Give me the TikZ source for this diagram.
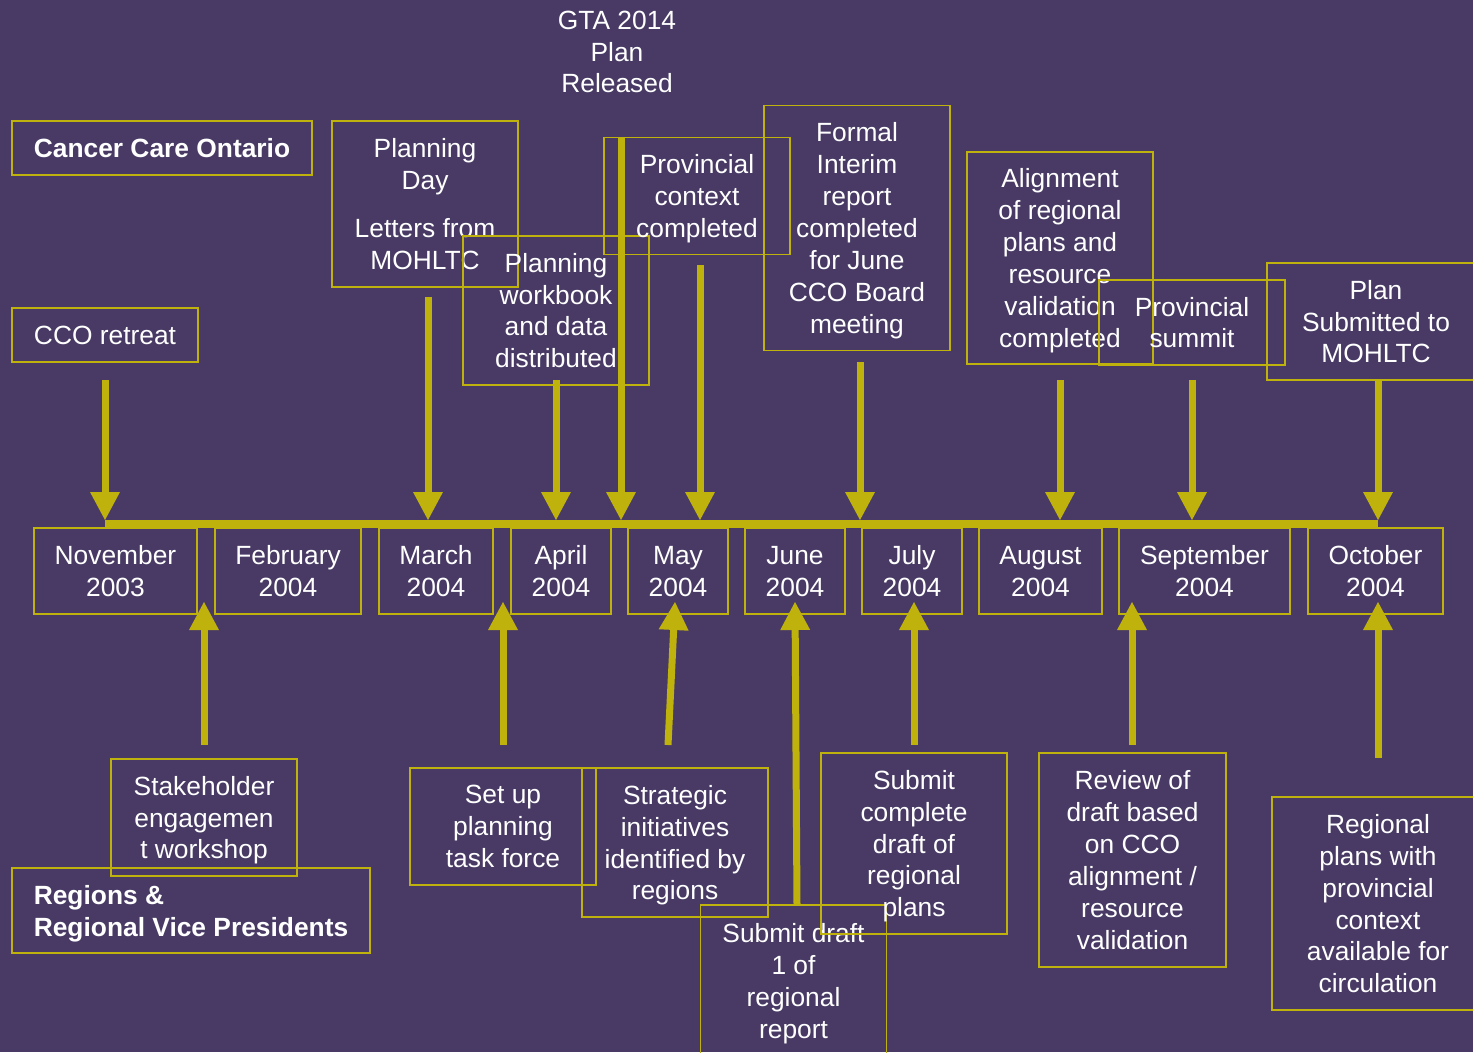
\documentclass[tikz,border=0pt]{standalone}
\usepackage{fontspec}
\setmainfont{Liberation Sans}
\usepackage{tikz}
\usetikzlibrary{arrows.meta}
\usepackage{xcolor}
\definecolor{bgpurple}{RGB}{72,58,100}
\definecolor{lineyellow}{RGB}{192,178,12}
\newcommand{\evfont}{\fontsize{15}{18.14}\selectfont}
\tikzset{
  evbox/.style 2 args={draw=lineyellow,line width=1.1pt,text=white,align=center,inner sep=0pt,
    font=\evfont,text depth=-1.5pt,minimum width=#1*0.02cm,minimum height=#2*0.02cm},
  monthbox/.style={evbox={#1}{86},text depth=-2.5pt},
  milestone/.style={draw=lineyellow,line width=0.14cm,
    -{Triangle[width=0.6cm,length=0.56cm,line width=0pt]}},
}
\begin{document}
\begin{tikzpicture}[x=0.02cm,y=-0.02cm]
\useasboundingbox (0,0) rectangle (1473,1052);
\fill[bgpurple] (0,0) rectangle (1473,1052);
% CCO side
\node[evbox={300}{54},font=\evfont\bfseries] (cco) at (162,148) {Cancer Care Ontario};
\node[evbox={186}{54}] (retreat) at (105,335) {CCO retreat};
\node[evbox={186}{166}] (planday) at (425,204) {Planning\\Day\\[9pt]Letters from\\MOHLTC};
\node[evbox={186}{149}] (workbook) at (556,310.5) {Planning\\workbook\\and data\\distributed};
\node[evbox={186}{117}] (provctx) at (697,196) {Provincial\\context\\completed};
\node[evbox={186}{245}] (interim) at (857,228) {Formal\\Interim\\report\\completed\\for June\\CCO Board\\meeting};
\node[evbox={186}{212}] (align) at (1060,258) {Alignment\\of regional\\plans and\\resource\\validation\\completed};
\node[evbox={186}{85}] (summit) at (1192,322.5) {Provincial\\summit};
\node[evbox={218}{117}] (plansub) at (1376,321.5) {Plan\\Submitted to\\MOHLTC};
\node[text=white,align=center,font=\evfont] (gta) at (617,52) {GTA 2014\\Plan\\Released};
% months
\node[monthbox=163] (nov) at (115.5,571) {November\\2003};
\node[monthbox=146] (feb) at (288,571) {February\\2004};
\node[monthbox=114] (mar) at (436,571) {March\\2004};
\node[monthbox=100] (apr) at (561,571) {April\\2004};
\node[monthbox=100] (may) at (678,571) {May\\2004};
\node[monthbox=100] (jun) at (795,571) {June\\2004};
\node[monthbox=100] (jul) at (912,571) {July\\2004};
\node[monthbox=123] (aug) at (1040.5,571) {August\\2004};
\node[monthbox=171] (sep) at (1204.5,571) {September\\2004};
\node[monthbox=135] (oct) at (1375.5,571) {October\\2004};
% regions side
\node[evbox={186}{117}] (stake) at (204,817.5) {Stakeholder\\engagemen\\t workshop};
\node[evbox={358}{85},font=\evfont\bfseries,align=left] (regions) at (191,910.5) {Regions \&\\Regional Vice Presidents};
\node[evbox={186}{117}] (setup) at (503,826.5) {Set up\\planning\\task force};
\node[evbox={186}{149}] (strat) at (675,842.5) {Strategic\\initiatives\\identified by\\regions};
\node[evbox={186}{152}] (draft1) at (793.5,981) {Submit draft\\1 of\\regional\\report};
\node[evbox={186}{181}] (complete) at (914,843.5) {Submit\\complete\\draft of\\regional\\plans};
\node[evbox={187}{214}] (review) at (1132.5,860) {Review of\\draft based\\on CCO\\alignment /\\resource\\validation};
\node[evbox={212}{213}] (regplans) at (1378,903.5) {Regional\\plans with\\provincial\\context\\available for\\circulation};
% timeline
\coordinate (tlL) at (105,524);
\coordinate (tlR) at (1378,524);
\draw[lineyellow,line width=0.16cm] (tlL) -- (tlR);
% arrows down onto the timeline
\coordinate (dRetreat) at (105,380);   \coordinate (tRetreat) at (105,520);
\coordinate (dPlanday) at (428,297);   \coordinate (tPlanday) at (428,520);
\coordinate (dWorkbook) at (556,380);  \coordinate (tWorkbook) at (556,520);
\coordinate (dGta) at (621,137);       \coordinate (tGta) at (621,520);
\coordinate (dProvctx) at (700,265);   \coordinate (tProvctx) at (700,520);
\coordinate (dInterim) at (860,362);   \coordinate (tInterim) at (860,520);
\coordinate (dAlign) at (1060,380);    \coordinate (tAlign) at (1060,520);
\coordinate (dSummit) at (1192,380);   \coordinate (tSummit) at (1192,520);
\coordinate (dPlansub) at (1378,380);  \coordinate (tPlansub) at (1378,520);
% arrows up onto the months
\coordinate (uStake) at (204,745);     \coordinate (tStake) at (204,602);
\coordinate (uSetup) at (503,745);     \coordinate (tSetup) at (503,602);
\coordinate (uStrat) at (668,745);     \coordinate (tStrat) at (675,602);
\coordinate (uDraft) at (797,905);     \coordinate (tDraft) at (795,602);
\coordinate (uComplete) at (914,745);  \coordinate (tComplete) at (914,602);
\coordinate (uReview) at (1132,745);   \coordinate (tReview) at (1132,602);
\coordinate (uRegplans) at (1378,758); \coordinate (tRegplans) at (1378,602);
\path[every edge/.style={milestone}]
(dRetreat) edge (tRetreat)
(dPlanday) edge (tPlanday)
(dWorkbook) edge (tWorkbook)
(dGta) edge (tGta)
(dProvctx) edge (tProvctx)
(dInterim) edge (tInterim)
(dAlign) edge (tAlign)
(dSummit) edge (tSummit)
(dPlansub) edge (tPlansub)
(uStake) edge (tStake)
(uSetup) edge (tSetup)
(uStrat) edge (tStrat)
(uDraft) edge (tDraft)
(uComplete) edge (tComplete)
(uReview) edge (tReview)
(uRegplans) edge (tRegplans);
\end{tikzpicture}
\end{document}
